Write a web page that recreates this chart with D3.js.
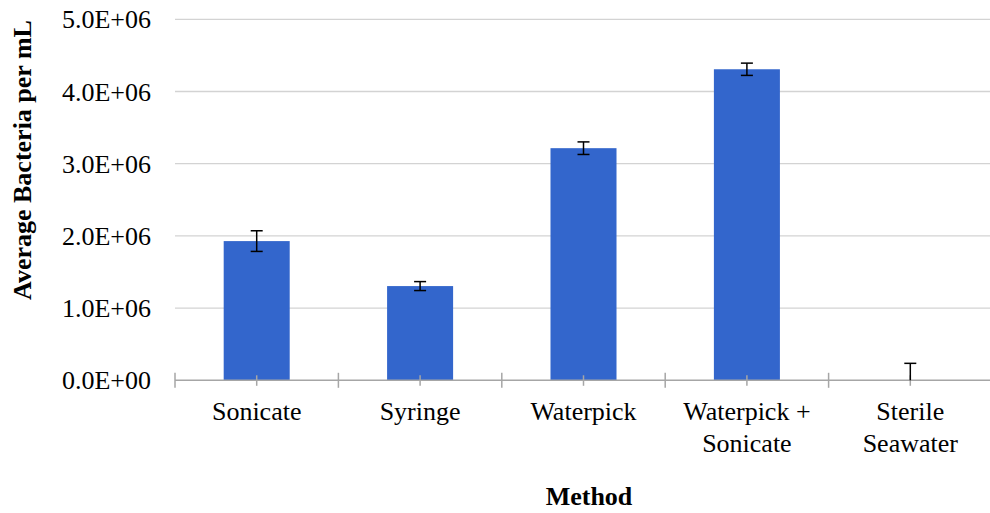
<!DOCTYPE html>
<html>
<head>
<meta charset="utf-8">
<script src="https://cdn.jsdelivr.net/npm/d3@7"></script>
<style>
  html, body { margin: 0; padding: 0; background: #fff; }
  svg { display: block; }
  text { font-family: "Liberation Serif", "Times New Roman", serif; fill: #000; }
</style>
</head>
<body>
<svg id="chart" width="990" height="513"></svg>
<script>
const categories = [["Sonicate"], ["Syringe"], ["Waterpick"], ["Waterpick +", "Sonicate"], ["Sterile", "Seawater"]];
const values = [1928000, 1305000, 3215000, 4308000, 0];
const errors = [143000, 62000, 87000, 85000, 235000];
const yTicks = [0, 1000000, 2000000, 3000000, 4000000, 5000000];

const svg = d3.select("#chart");
const plotLeft = 175, plotRight = 992, plotTop = 19.3, plotBottom = 380.3;

const keys = categories.map((c, i) => i);
const x = d3.scaleBand().domain(keys).range([plotLeft, plotRight]).paddingInner(0.596).paddingOuter(0.298);
const xOuter = d3.scaleBand().domain(keys).range([plotLeft, plotRight]);
const y = d3.scaleLinear().domain([0, 5000000]).range([plotBottom, plotTop]);

const fmt = v => {
  const e = v === 0 ? 0 : Math.floor(Math.log10(v));
  const m = v === 0 ? 0 : v / Math.pow(10, e);
  return m.toFixed(1) + "E+" + String(e).padStart(2, "0");
};

// gridlines
svg.append("g").selectAll("line").data(yTicks.filter(t => t > 0)).join("line")
  .attr("x1", plotLeft).attr("x2", plotRight)
  .attr("y1", d => y(d)).attr("y2", d => y(d))
  .attr("stroke", "#d3d3d3").attr("stroke-width", 1.3);

// y labels
svg.append("g").selectAll("text").data(yTicks).join("text")
  .attr("x", 151).attr("y", d => y(d) + 9)
  .attr("text-anchor", "end").attr("font-size", 26)
  .text(fmt);

// bars
svg.append("g").selectAll("rect").data(values).join("rect")
  .attr("x", (d, i) => x(i)).attr("width", x.bandwidth())
  .attr("y", d => y(d)).attr("height", d => plotBottom - y(d))
  .attr("fill", "#3366CC");

// x axis line
svg.append("line").attr("x1", plotLeft).attr("x2", plotRight)
  .attr("y1", plotBottom).attr("y2", plotBottom)
  .attr("stroke", "#a6a6a6").attr("stroke-width", 1.5);

// separator ticks
const seps = keys.map(i => xOuter(i));
svg.append("g").selectAll("line").data(seps).join("line")
  .attr("x1", d => d).attr("x2", d => d)
  .attr("y1", plotBottom - 7.5).attr("y2", plotBottom + 7.5)
  .attr("stroke", "#a6a6a6").attr("stroke-width", 1.5);

// center ticks
svg.append("g").selectAll("line").data(keys).join("line")
  .attr("x1", i => x(i) + x.bandwidth() / 2).attr("x2", i => x(i) + x.bandwidth() / 2)
  .attr("y1", plotBottom - 5).attr("y2", plotBottom + 5.5)
  .attr("stroke", "#a6a6a6").attr("stroke-width", 1.5);

// error bars
const eb = svg.append("g").attr("stroke", "#000").attr("stroke-width", 1.5);
values.forEach((v, i) => {
  const cx = x(i) + x.bandwidth() / 2;
  const hi = y(v + errors[i]);
  const lo = y(Math.max(0, v - errors[i]));
  eb.append("line").attr("x1", cx).attr("x2", cx).attr("y1", hi).attr("y2", lo);
  eb.append("line").attr("x1", cx - 6).attr("x2", cx + 6).attr("y1", hi).attr("y2", hi);
  if (v - errors[i] > 0) {
    eb.append("line").attr("x1", cx - 6).attr("x2", cx + 6).attr("y1", lo).attr("y2", lo);
  }
});

// category labels
const cl = svg.append("g");
categories.forEach((lines, i) => {
  const cx = x(i) + x.bandwidth() / 2;
  const t = cl.append("text").attr("text-anchor", "middle").attr("font-size", 26)
    .attr("x", cx).attr("y", 420);
  lines.forEach((ln, j) => {
    t.append("tspan").attr("x", cx).attr("dy", j === 0 ? 0 : 32).text(ln);
  });
});

// axis titles
svg.append("text").attr("x", 589).attr("y", 505)
  .attr("text-anchor", "middle").attr("font-size", 26).attr("font-weight", "bold")
  .text("Method");
svg.append("text")
  .attr("transform", "translate(31,160) rotate(-90)")
  .attr("text-anchor", "middle").attr("font-size", 26).attr("font-weight", "bold")
  .text("Average Bacteria per mL");
</script>
</body>
</html>
